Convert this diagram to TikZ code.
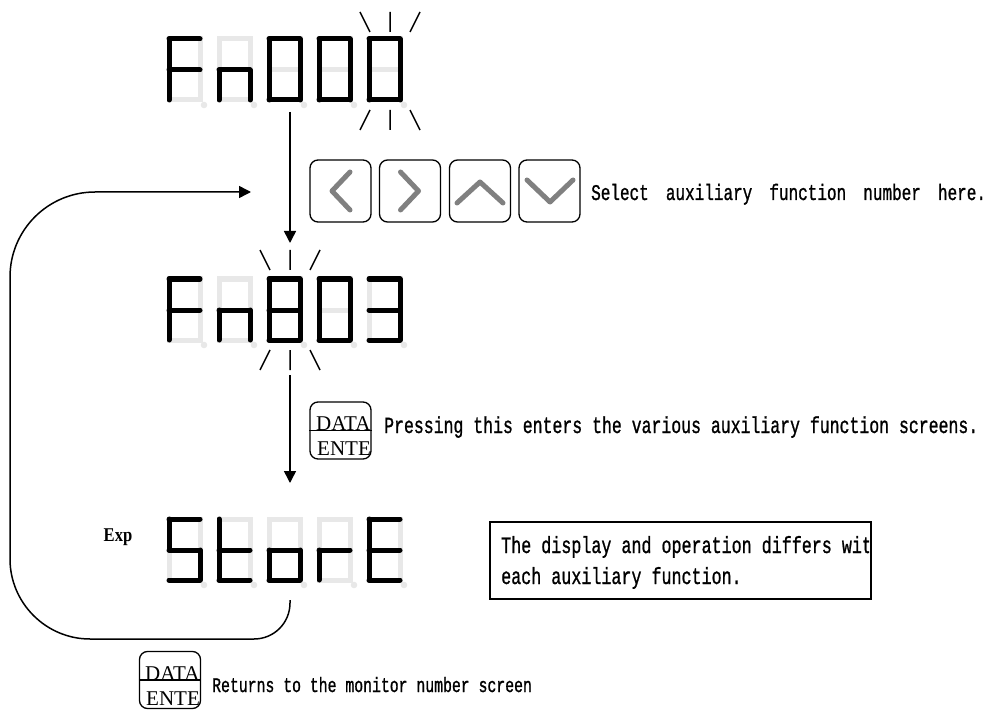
\documentclass[tikz,border=0pt]{standalone}
\usepackage{fontspec}
\usepackage{graphicx}
\setmainfont{Liberation Serif}
\newfontfamily\monof[FakeBold=1.2]{Liberation Mono}
\usetikzlibrary{arrows.meta}
\definecolor{segg}{HTML}{E8E8E8}
\definecolor{chevg}{HTML}{808080}
\newcommand\tallt[1]{\scalebox{1}[1.4]{#1}}
\newcommand\gap{\hspace{7.5pt}}
\newcommand\segone[1]{\ifcase#1\or
 \draw[segon] (0,0)--(31,0);\or
 \draw[segon] (31,0)--(31,31);\or
 \draw[segon] (31,31)--(31,61);\or
 \draw[segon] (0,61)--(31,61);\or
 \draw[segon] (0,31)--(0,61);\or
 \draw[segon] (0,0)--(0,31);\or
 \draw[segon] (0,31)--(31,31);\fi}
\newcommand\sevseg[3]{\begin{scope}[shift={(#1,#2)}]
 \draw[seggray] (0,0) rectangle (31,61) (0,31)--(31,31);
 \fill[segg] (35,66) circle (3.3);
 \foreach \s in {#3}{\segone{\s}}
 \end{scope}}
\begin{document}
\begin{tikzpicture}[x=1pt,y=-1pt,
  seggray/.style={line width=5pt, draw=segg},
  segon/.style={line width=5pt, draw=black, line cap=round},
  ray/.style={line width=1.5pt},
  flow/.style={line width=1.5pt, -{Triangle[length=12pt,width=12pt]}},
  keybox/.style={draw, line width=1.3pt, rounded corners=8pt, minimum width=61pt, minimum height=62pt, inner sep=0pt},
  chev/.style={draw=chevg, line width=5pt, line cap=round, line join=round},
  datakey/.style={draw, line width=1.3pt, rounded corners=8pt, minimum width=61pt, minimum height=57pt, inner sep=0pt},
  keytxt/.style={inner sep=0pt, anchor=base west, font=\fontsize{21}{21}\selectfont},
  desc/.style={inner sep=0pt, anchor=base west, font=\monof\fontsize{16.5}{18}\selectfont},
]
\useasboundingbox (0,0) rectangle (998,711);

% display 1: Fn000
\sevseg{169}{39}{1,6,7,5}
\sevseg{219}{39}{5,7,3}
\sevseg{269}{39}{1,2,3,4,5,6}
\sevseg{319}{39}{1,2,3,4,5,6}
\sevseg{369}{39}{1,2,3,4,5,6}
\draw[ray] (360,12)--(370,32) (390,12)--(390,32) (420,12)--(410,32);
\draw[ray] (370,110)--(360,130) (390,110)--(390,130) (410,110)--(420,130);

% display 2: Fn803
\sevseg{169}{279}{1,6,7,5}
\sevseg{219}{279}{5,7,3}
\sevseg{269}{279}{1,2,3,4,5,6,7}
\sevseg{319}{279}{1,2,3,4,5,6}
\sevseg{369}{279}{1,2,3,4,7}
\draw[ray] (260,250)--(270,270) (290,250)--(290,270) (320,250)--(310,270);
\draw[ray] (270,350)--(260,370) (290,350)--(290,370) (310,350)--(320,370);

% display 3: StorE
\sevseg{169}{519}{1,6,7,3,4}
\sevseg{219}{519}{6,5,7,4}
\sevseg{269}{519}{7,5,3,4}
\sevseg{319}{519}{7,5}
\sevseg{369}{519}{1,6,7,5,4}
\node[inner sep=0pt, anchor=base, font=\bfseries\fontsize{19.5}{19.5}\selectfont] (exp) at (118,541) {\scalebox{0.85}[1]{Exp}};

% arrows
\coordinate (a1s) at (290,112);
\coordinate (a1e) at (290,243);
\coordinate (a2s) at (290,375);
\coordinate (a2e) at (290,483);
\coordinate (ls) at (290,600);
\coordinate (le) at (251,192);
\draw[flow] (a1s) -- (a1e);
\draw[flow] (a2s) -- (a2e);
\draw[flow] (ls) -- (290,603) .. controls (290,623) and (274,639) .. (254,639)
  -- (90,639) .. controls (46,639) and (10,603) .. (10,559)
  -- (10,277) .. controls (10,230) and (48,192) .. (95,192) -- (le);

% arrow keys
\node[keybox] (kl) at (340.5,191) {};
\node[keybox] (kr) at (410,191) {};
\node[keybox] (ku) at (480,191) {};
\node[keybox] (kd) at (549.5,191) {};
\draw[chev] ([shift={(9.5,-19)}]kl.center) -- ([shift={(-8.5,0)}]kl.center) -- ([shift={(9.5,19)}]kl.center);
\draw[chev] ([shift={(-9.5,-19)}]kr.center) -- ([shift={(8.5,0)}]kr.center) -- ([shift={(-9.5,19)}]kr.center);
\draw[chev] ([shift={(-23,12)}]ku.center) -- ([shift={(0,-9)}]ku.center) -- ([shift={(23,12)}]ku.center);
\draw[chev] ([shift={(-22.5,-11)}]kd.center) -- ([shift={(0.5,11)}]kd.center) -- ([shift={(23.5,-11)}]kd.center);
\node[desc, font=\monof\fontsize{16}{18}\selectfont] (t1) at (591,200) {\tallt{Select \gap auxiliary \gap function \gap number \gap here.}};

% data key 1
\node[datakey] (dk1) at (340.5,430.5) {};
\draw[line width=1.3pt] (dk1.west) -- (dk1.east);
\node[keytxt] (dk1a) at (316,430) {DATA};
\node[keytxt] (dk1b) at (317,455) {ENTE};
\node[desc] (t2) at (384,433) {\tallt{Pressing this enters the various auxiliary function screens.}};

% note box
\node[draw, line width=2pt, minimum width=381pt, minimum height=77pt, inner sep=0pt, anchor=north west] (note) at (489,521) {};
\begin{scope}
\clip (490,522) rectangle (869,597);
\node[desc, font=\monof\fontsize{16.7}{18}\selectfont] (t3) at (501,553) {\tallt{The display and operation differs with}};
\node[desc, font=\monof\fontsize{16.7}{18}\selectfont] (t4) at (501,584) {\tallt{each auxiliary function.}};
\end{scope}

% data key 2
\node[datakey] (dk2) at (170,680) {};
\draw[line width=1.3pt] (dk2.west) -- (dk2.east);
\node[keytxt] (dk2a) at (145,680) {DATA};
\node[keytxt] (dk2b) at (146,705) {ENTE};
\node[desc, font=\monof\fontsize{14.8}{18}\selectfont] (t5) at (212,692) {\tallt{Returns to the monitor number screen}};
\end{tikzpicture}
\end{document}
